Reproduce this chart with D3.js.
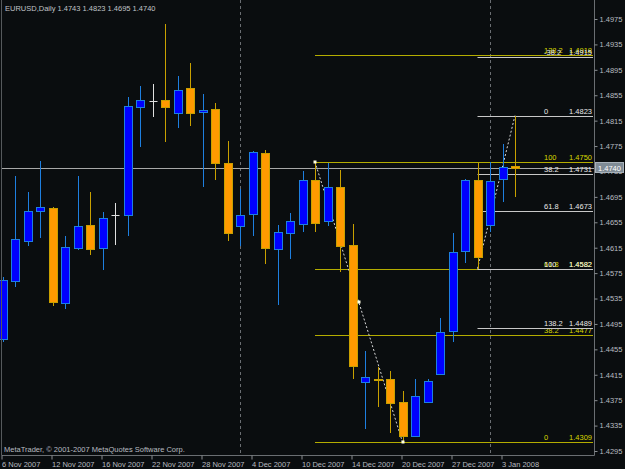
<!DOCTYPE html>
<html><head><meta charset="utf-8">
<script src="https://cdn.jsdelivr.net/npm/d3@7"></script>
<style>
html,body{margin:0;padding:0;background:#0a0d0f;}
svg{display:block;}
text{font-family:"Liberation Sans",Arial,sans-serif;font-size:7.5px;}
</style></head>
<body>
<svg id="c" width="625" height="469"></svg>
<script>
// ---- data ----
const dates = ["6 Nov 2007","7 Nov 2007","8 Nov 2007","9 Nov 2007","12 Nov 2007","13 Nov 2007","14 Nov 2007","15 Nov 2007",
"16 Nov 2007","19 Nov 2007","20 Nov 2007","21 Nov 2007","22 Nov 2007","23 Nov 2007","26 Nov 2007","27 Nov 2007",
"28 Nov 2007","29 Nov 2007","30 Nov 2007","3 Dec 2007","4 Dec 2007","5 Dec 2007","6 Dec 2007","7 Dec 2007",
"10 Dec 2007","11 Dec 2007","12 Dec 2007","13 Dec 2007","14 Dec 2007","17 Dec 2007","18 Dec 2007","19 Dec 2007",
"20 Dec 2007","21 Dec 2007","24 Dec 2007","26 Dec 2007","27 Dec 2007","28 Dec 2007","31 Dec 2007","2 Jan 2008",
"3 Jan 2008","4 Jan 2008"];
const open  = [1.4471,1.4563,1.4626,1.4673,1.4678,1.4528,1.4614,1.4651,1.4614,1.4666,1.4666,1.4836,1.4846,1.4848,1.4827,1.4866,1.4828,1.4833,1.4748,1.4649,1.4668,1.4764,1.4613,1.4638,1.4653,1.4721,1.4657,1.4710,1.4619,1.4404,1.4409,1.4408,1.4372,1.4318,1.4372,1.4416,1.4484,1.4610,1.4722,1.4651,1.4723,1.4743];
const high  = [1.4569,1.4728,1.4703,1.4752,1.4679,1.4633,1.4728,1.4703,1.4671,1.4686,1.4852,1.4870,1.4872,1.4967,1.4885,1.4905,1.4857,1.4842,1.4783,1.4707,1.4767,1.4769,1.4651,1.4670,1.4736,1.4750,1.4748,1.4737,1.4653,1.4452,1.4428,1.4421,1.4390,1.4408,1.4409,1.4504,1.4638,1.4723,1.4749,1.4750,1.4779,1.4823];
const low   = [1.4467,1.4553,1.4618,1.4631,1.4524,1.4518,1.4612,1.4603,1.4580,1.4619,1.4633,1.4774,1.4821,1.4782,1.4804,1.4807,1.4710,1.4721,1.4626,1.4617,1.4633,1.4590,1.4525,1.4597,1.4640,1.4639,1.4649,1.4576,1.4409,1.4330,1.4365,1.4324,1.4309,1.4317,1.4370,1.4414,1.4467,1.4591,1.4582,1.4639,1.4687,1.4695];
const close = [1.4564,1.4628,1.4673,1.4679,1.4529,1.4616,1.4649,1.4613,1.4662,1.4666,1.4838,1.4848,1.4846,1.4836,1.4864,1.4827,1.4832,1.4748,1.4638,1.4666,1.4765,1.4615,1.4639,1.4657,1.4721,1.4654,1.4710,1.4618,1.4429,1.4412,1.4408,1.4370,1.4319,1.4381,1.4405,1.4482,1.4608,1.4721,1.4601,1.4720,1.4742,1.4740];
const priceTicks = [1.4975,1.4935,1.4895,1.4855,1.4815,1.4775,1.4735,1.4695,1.4655,1.4615,1.4575,1.4535,1.4495,1.4455,1.4415,1.4375,1.4335,1.4295];
const dateTickIdx = [0,4,8,12,16,20,24,28,32,36,40];
const dateTickLabels = ["6 Nov 2007","12 Nov 2007","16 Nov 2007","22 Nov 2007","28 Nov 2007","4 Dec 2007","10 Dec 2007","14 Dec 2007","20 Dec 2007","27 Dec 2007","3 Jan 2008"];
const separatorIdx = [19,39];
const bidPrice = 1.4740;
// Fibonacci objects
const fibYLevels = ["0","38.2","61.8","100","138.2"];
const fibYPrices = [1.4309,1.4477,1.4582,1.4750,1.4918];
const fibYAnchors = [[25,1.4750],[32,1.4309]];
const fibWLevels = ["-38.2","0","38.2","61.8","100","138.2"];
const fibWPrices = [1.4915,1.4823,1.4731,1.4673,1.4582,1.4489];
const fibWAnchors = [[38,1.4582],[41,1.4823]];
const header = "EURUSD,Daily  1.4743 1.4823 1.4695 1.4740";
const copyright = "MetaTrader, \u00A9 2001-2007 MetaQuotes Software Corp.";

// ---- chart ----
const svg = d3.select("#c");
const W = 625, H = 469;
const plotL = 2, plotR = 594, plotB = 455;
svg.append("rect").attr("width",W).attr("height",H).attr("fill","#0a0d0f");

const x = d3.scaleLinear().domain([0,41]).range([2.5,515]);
const y = d3.scaleLinear().domain([1.4295,1.4975]).range([451,19]);
const px = v => Math.round(v)+0.5;

// period separators
svg.selectAll("line.sep").data(separatorIdx).join("line")
  .attr("x1",d=>px(x(d)-0.5)).attr("x2",d=>px(x(d)-0.5)).attr("y1",0).attr("y2",plotB)
  .attr("stroke","#6a6e72").attr("stroke-dasharray","3,3").attr("stroke-width",1);

// bid line
svg.append("line").attr("x1",plotL).attr("x2",plotR).attr("y1",px(y(bidPrice))).attr("y2",px(y(bidPrice)))
  .attr("stroke","#a8a8a8");

// fibs
function drawFib(levels, prices, anchors, color, txtColor){
  const x0 = Math.min(x(anchors[0][0]), x(anchors[1][0]));
  const g = svg.append("g");
  prices.forEach((p,i)=>{
    g.append("line").attr("x1",x0).attr("x2",plotR-1).attr("y1",px(y(p))).attr("y2",px(y(p)))
      .attr("stroke",color).attr("stroke-width",1.2);
    g.append("text").attr("x",544).attr("y",Math.round(y(p))-2).attr("fill",txtColor).text(levels[i]);
    g.append("text").attr("x",592).attr("y",Math.round(y(p))-2).attr("fill",txtColor)
      .attr("text-anchor","end").text(d3.format(".4f")(p));
  });
  g.append("line").attr("x1",x(anchors[0][0])).attr("y1",y(anchors[0][1]))
    .attr("x2",x(anchors[1][0])).attr("y2",y(anchors[1][1]))
    .attr("stroke","#d8d8d8").attr("stroke-dasharray","2,2").attr("stroke-width",1);
}
drawFib(fibYLevels, fibYPrices, fibYAnchors, "#b4ac00", "#d8d800");
drawFib(fibWLevels, fibWPrices, fibWAnchors, "#c8c8c8", "#e8e8e8");

// candles
const data = dates.map((d,i)=>({i,o:open[i],h:high[i],l:low[i],c:close[i]}));
const bullFill="#0000ff", bullLine="#1e7fe0", bearFill="#ff9a00", bearLine="#c8a000", dojiCol="#e0e0e0";
const cg = svg.append("g");
data.forEach(d=>{
  const cx = px(x(d.i));
  const bull = d.c > d.o, doji = d.c === d.o;
  const col = doji ? dojiCol : (bull ? bullLine : bearLine);
  cg.append("line").attr("x1",cx).attr("x2",cx).attr("y1",Math.round(y(d.h))).attr("y2",Math.round(y(d.l)))
    .attr("stroke",col).attr("stroke-width",1);
  if(doji){
    cg.append("line").attr("x1",cx-4).attr("x2",cx+4).attr("y1",px(y(d.o))).attr("y2",px(y(d.o)))
      .attr("stroke",dojiCol);
  } else {
    const yt = Math.round(y(Math.max(d.o,d.c))), yb = Math.round(y(Math.min(d.o,d.c)));
    const hgt = Math.max(1, yb-yt);
    cg.append("rect").attr("x",cx-4).attr("y",yt+0.5).attr("width",8).attr("height",hgt)
      .attr("fill",bull?bullFill:bearFill).attr("stroke",bull?bullLine:bearLine).attr("stroke-width",1);
  }
});

// fib selection markers
const marks = [[fibYAnchors[0][0],fibYAnchors[0][1]],[fibYAnchors[1][0],fibYAnchors[1][1]],
  [(fibYAnchors[0][0]+fibYAnchors[1][0])/2,(fibYAnchors[0][1]+fibYAnchors[1][1])/2]];
svg.selectAll("rect.mk").data(marks).join("rect")
  .attr("x",d=>Math.round(x(d[0]))-1.5).attr("y",d=>Math.round(y(d[1]))-1.5).attr("width",3).attr("height",3)
  .attr("fill","#ffffe0");

// frame
svg.append("line").attr("x1",1.5).attr("x2",1.5).attr("y1",0).attr("y2",plotB).attr("stroke","#55595c");
svg.append("line").attr("x1",plotR+0.5).attr("x2",plotR+0.5).attr("y1",0).attr("y2",plotB+0.5).attr("stroke","#6a6e72");
svg.append("line").attr("x1",1.5).attr("x2",plotR+0.5).attr("y1",plotB+0.5).attr("y2",plotB+0.5).attr("stroke","#6a6e72");

// right axis
const ay = d3.axisRight(y).tickValues(priceTicks).tickFormat(d3.format(".4f")).tickSize(3).tickPadding(2);
const gy = svg.append("g").attr("transform",`translate(${plotR+0.5},0)`).call(ay);
gy.select(".domain").remove();
gy.selectAll(".tick line").attr("stroke","#8a8e92");
gy.selectAll(".tick text").attr("fill","#b8bcc0").style("font-size","7.5px").style("font-family","Liberation Sans");

// bottom axis
const ax = d3.axisBottom(x).tickValues(dateTickIdx).tickFormat((d,i)=>dateTickLabels[i]).tickSize(4).tickPadding(2);
const gx = svg.append("g").attr("transform",`translate(0,${plotB+0.5})`).call(ax);
gx.select(".domain").remove();
gx.selectAll(".tick line").attr("stroke","#8a8e92").attr("transform","translate(-1,0)");
gx.selectAll(".tick text").attr("fill","#b8bcc0").attr("text-anchor","start").attr("dx",-1)
  .style("font-size","7.5px").style("font-family","Liberation Sans");

// bid price label box
const by = Math.round(y(bidPrice));
svg.append("rect").attr("x",595.5).attr("y",by-5.5).attr("width",28).attr("height",10)
  .attr("fill","#7f8b95").attr("stroke","#a9b2ba");
svg.append("text").attr("x",598).attr("y",by+3).attr("fill","#ffffff").text(d3.format(".4f")(bidPrice));

// header & copyright
svg.append("text").attr("x",5).attr("y",11).attr("fill","#c0c4c8").text(header);
svg.append("text").attr("x",4).attr("y",452).attr("fill","#b8bcc0").text(copyright);
</script>
</body></html>
